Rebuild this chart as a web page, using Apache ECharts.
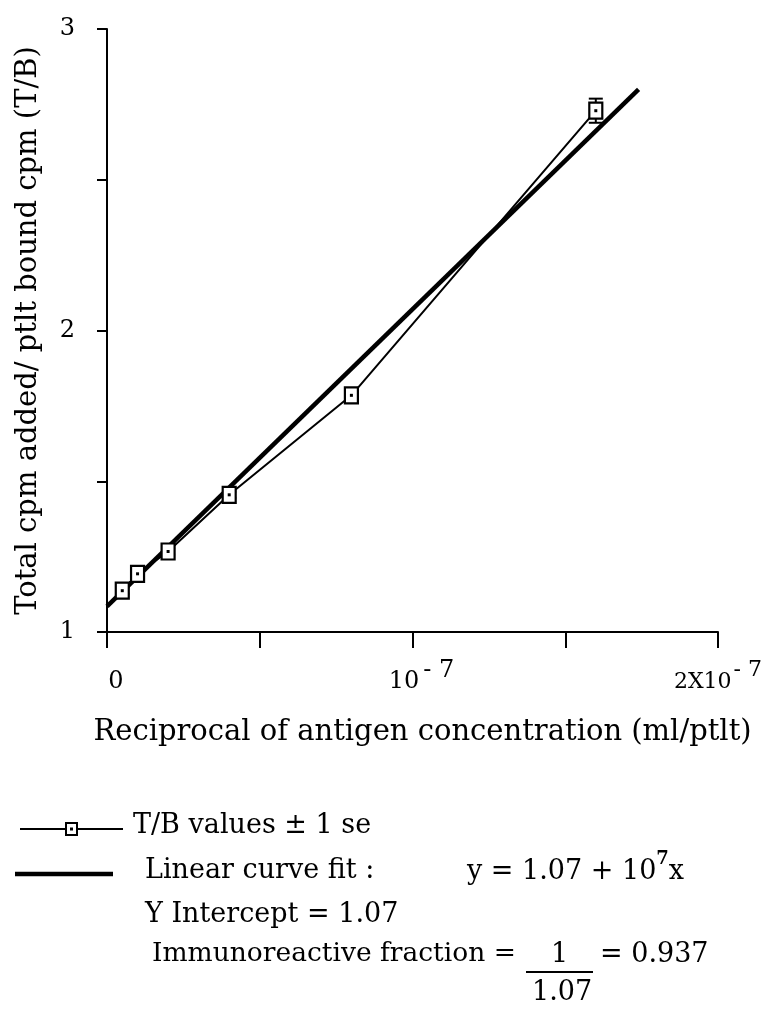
<!DOCTYPE html>
<html><head><meta charset="utf-8">
<script src="https://cdn.jsdelivr.net/npm/echarts@6/dist/echarts.min.js"></script>
<style>html,body{margin:0;padding:0;background:#fff}#c{width:769px;height:1009px}</style>
</head><body><div id="c"></div>
<script>
// Data (x in ml/ptlt, y = T/B)
const xValues = [0.05e-7, 0.10e-7, 0.20e-7, 0.40e-7, 0.80e-7, 1.60e-7];
const tbValues = [1.137, 1.193, 1.267, 1.455, 1.785, 2.729];
const seValues = [0.01, 0.01, 0.01, 0.01, 0.01, 0.04];
const fitX = [0, 1.74e-7];
const fitY = [1.085, 2.80];
const yTickLabels = {1: '1', 2: '2', 3: '3'};
const xTickLabels = ['{b|0}', '{b|10}{s|- 7}', '{c|2X10}{t|- 7}'];

const FONT = 'DejaVu Serif';
const pts = xValues.map((x, i) => [x, tbValues[i], seValues[i]]);
const fitData = fitX.map((x, i) => [x, fitY[i]]);

const chart = echarts.init(document.getElementById('c'), null, {renderer: 'canvas'});
const T = (s) => s + 'px "DejaVu Serif"';
chart.setOption({
  animation: false,
  backgroundColor: '#fff',
  grid: {left: 107, right: 51, top: 29, bottom: 377, containLabel: false, outerBoundsMode: 'none'},
  xAxis: {
    type: 'value', min: 0, max: 2e-7, interval: 0.5e-7,
    name: 'Reciprocal of antigen concentration (ml/ptlt)',
    nameLocation: 'middle', nameGap: 86,
    nameTextStyle: {fontFamily: FONT, fontSize: 29, color: '#000', padding: [0, 0, 0, 20]},
    axisLine: {show: true, lineStyle: {color: '#000', width: 2}},
    axisTick: {show: true, length: 16, lineStyle: {color: '#000', width: 2}},
    splitLine: {show: false},
    axisLabel: {
      margin: 27, color: '#000', hideOverlap: false,
      formatter: function (v) {
        const k = Math.round(v / 1e-7 * 2);
        if (k === 0) return xTickLabels[0];
        if (k === 2) return xTickLabels[1];
        if (k === 4) return xTickLabels[2];
        return '';
      },
      rich: {
        b: {fontFamily: FONT, fontSize: 24, color: '#000', padding: [11, 0, 0, 18]},
        s: {fontFamily: FONT, fontSize: 24, color: '#000', verticalAlign: 'top', padding: [0, 0, 0, 4]},
        c: {fontFamily: FONT, fontSize: 22, color: '#000', padding: [12, 0, 0, 0]},
        t: {fontFamily: FONT, fontSize: 22, color: '#000', verticalAlign: 'top', padding: [0, 0, 0, 2]}
      }
    }
  },
  yAxis: {
    type: 'value', min: 1, max: 3, interval: 0.5,
    name: 'Total cpm added/ ptlt bound cpm (T/B)',
    nameLocation: 'middle', nameGap: 64, nameRotate: 90,
    nameTextStyle: {fontFamily: FONT, fontSize: 29, color: '#000'},
    axisLine: {show: true, lineStyle: {color: '#000', width: 2}},
    axisTick: {show: true, length: 10, lineStyle: {color: '#000', width: 2}},
    splitLine: {show: false},
    axisLabel: {
      margin: 32, fontFamily: FONT, fontSize: 24, color: '#000',
      formatter: function (v) { return yTickLabels[Math.round(v * 2) / 2] || ''; }
    }
  },
  series: [
    {
      type: 'line', data: fitData, symbol: 'none', z: 2,
      lineStyle: {color: '#000', width: 4.5}
    },
    {
      type: 'line', data: pts.map(p => [p[0], p[1]]), symbol: 'none', z: 3,
      lineStyle: {color: '#000', width: 2}
    },
    {
      type: 'custom', z: 5, data: pts,
      renderItem: function (params, api) {
        const x = api.value(0), y = api.value(1), se = api.value(2);
        const c = api.coord([x, y]);
        const lo = api.coord([x, y - se]);
        const hi = api.coord([x, y + se]);
        const w = 13, h = 16, cap = 7;
        return {
          type: 'group',
          children: [
            {type: 'line', shape: {x1: c[0], y1: lo[1], x2: c[0], y2: hi[1]}, style: {stroke: '#000', lineWidth: 2}},
            {type: 'line', shape: {x1: c[0] - cap, y1: lo[1], x2: c[0] + cap, y2: lo[1]}, style: {stroke: '#000', lineWidth: 2}},
            {type: 'line', shape: {x1: c[0] - cap, y1: hi[1], x2: c[0] + cap, y2: hi[1]}, style: {stroke: '#000', lineWidth: 2}},
            {type: 'rect', shape: {x: c[0] - w / 2, y: c[1] - h / 2, width: w, height: h}, style: {fill: '#fff', stroke: '#000', lineWidth: 2.2}},
            {type: 'rect', shape: {x: c[0] - 1.5, y: c[1] - 1.5, width: 3, height: 3}, style: {fill: '#000'}}
          ]
        };
      }
    }
  ],
  graphic: [
    {type: 'line', shape: {x1: 20, y1: 829, x2: 123, y2: 829}, style: {stroke: '#000', lineWidth: 2}},
    {type: 'rect', shape: {x: 66, y: 823, width: 11, height: 12}, style: {fill: '#fff', stroke: '#000', lineWidth: 2}},
    {type: 'rect', shape: {x: 70, y: 827.5, width: 3, height: 3}, style: {fill: '#000'}},
    {type: 'text', left: 133, top: 812, style: {text: 'T/B values \u00b1 1 se', font: T(27), fill: '#000'}},
    {type: 'line', shape: {x1: 15, y1: 874, x2: 113, y2: 874}, style: {stroke: '#000', lineWidth: 4.5}},
    {type: 'text', left: 145, top: 857, style: {text: 'Linear curve fit :', font: T(27), fill: '#000'}},
    {type: 'text', left: 467, top: 850, style: {
      text: '{b|y = 1.07 + 10}{s|7}{b|x}', fill: '#000',
      rich: {
        b: {fontFamily: FONT, fontSize: 27, padding: [8, 0, 0, 0], fill: '#000'},
        s: {fontFamily: FONT, fontSize: 18, fontWeight: 'bold', verticalAlign: 'top', fill: '#000'}
      }
    }},
    {type: 'text', left: 145, top: 901, style: {text: 'Y Intercept = 1.07', font: T(27), fill: '#000'}},
    {type: 'text', left: 152, top: 941, style: {text: 'Immunoreactive fraction = ', font: T(26.5), fill: '#000'}},
    {type: 'text', left: 551, top: 941, style: {text: '1', font: T(27), fill: '#000'}},
    {type: 'line', shape: {x1: 526, y1: 972, x2: 593, y2: 972}, style: {stroke: '#000', lineWidth: 2}},
    {type: 'text', left: 600, top: 941, style: {text: '= 0.937', font: T(27), fill: '#000'}},
    {type: 'text', left: 532, top: 979, style: {text: '1.07', font: T(27), fill: '#000'}}
  ]
});
</script></body></html>
